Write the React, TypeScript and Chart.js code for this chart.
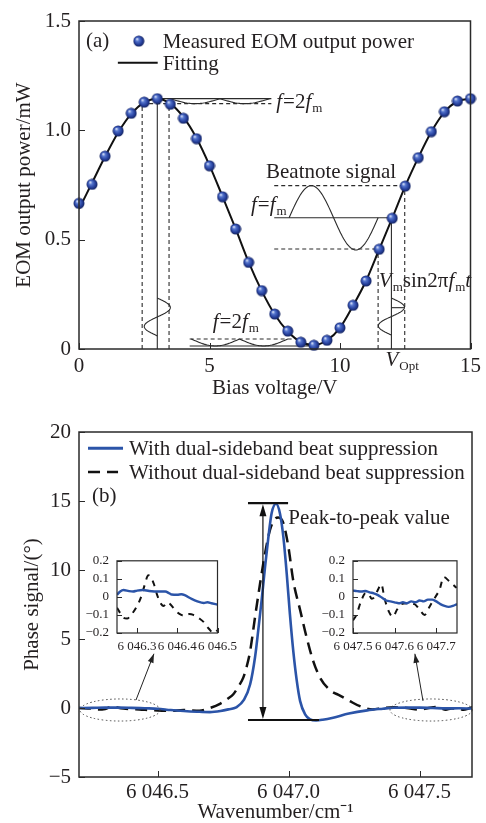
import React, { useEffect, useRef } from 'react';
import { Chart, registerables } from 'chart.js';

Chart.register(...registerables);

const FONT = '"Liberation Serif", "Times New Roman", Times, serif';
const INK = '#231f20';
const BLUE = '#2b54a8';

// ---------------- Panel (a) data ----------------
const biasVoltage = [0, 0.5, 1, 1.5, 2, 2.5, 3, 3.5, 4, 4.5, 5, 5.5, 6, 6.5, 7, 7.5, 8, 8.5, 9, 9.5, 10, 10.5, 11, 11.5, 12, 12.5, 13, 13.5, 14, 14.5, 15];
const measuredPower = [0.666, 0.753, 0.882, 0.997, 1.078, 1.129, 1.145, 1.119, 1.055, 0.962, 0.838, 0.696, 0.549, 0.396, 0.267, 0.16, 0.082, 0.031, 0.017, 0.04, 0.097, 0.2, 0.311, 0.456, 0.598, 0.745, 0.875, 0.994, 1.085, 1.134, 1.145];
const fittedPower = [0.64, 0.76, 0.88, 0.99, 1.075, 1.128, 1.145, 1.122, 1.06, 0.965, 0.84, 0.697, 0.55, 0.397, 0.266, 0.158, 0.08, 0.032, 0.018, 0.04, 0.097, 0.198, 0.312, 0.455, 0.598, 0.745, 0.875, 0.993, 1.083, 1.133, 1.145];
const biasTicks = [0, 5, 10, 15];
const powerTicks = [0, 0.5, 1.0, 1.5];

// ---------------- Panel (b) data ----------------
const wnWith = [6046.2, 6046.25, 6046.3, 6046.35, 6046.4, 6046.45, 6046.5, 6046.55, 6046.6, 6046.65, 6046.7, 6046.74, 6046.77, 6046.8, 6046.83, 6046.853, 6046.872, 6046.884, 6046.897, 6046.91, 6046.923, 6046.935, 6046.952, 6046.967, 6046.98, 6046.993, 6047.005, 6047.018, 6047.031, 6047.044, 6047.063, 6047.082, 6047.105, 6047.13, 6047.17, 6047.23, 6047.3, 6047.36, 6047.4, 6047.45, 6047.5, 6047.55, 6047.6, 6047.65, 6047.7];
const phaseWith = [0.0, 0.01, 0.03, 0.03, 0.01, -0.02, -0.05, -0.15, -0.22, -0.27, -0.3, -0.22, -0.1, 0.05, 0.6, 1.7, 3.7, 5.6, 7.8, 10.2, 12.4, 14.1, 14.8, 14.1, 12.4, 9.7, 6.8, 4.1, 2.0, 0.5, -0.46, -0.82, -0.9, -0.85, -0.7, -0.4, -0.17, -0.05, 0.02, 0.03, 0.03, 0.0, -0.03, -0.02, -0.04];
const wnWithout = [6046.2, 6046.25, 6046.27, 6046.3, 6046.33, 6046.35, 6046.37, 6046.4, 6046.43, 6046.47, 6046.5, 6046.55, 6046.6, 6046.66, 6046.7, 6046.738, 6046.77, 6046.789, 6046.81, 6046.827, 6046.84, 6046.853, 6046.872, 6046.891, 6046.91, 6046.929, 6046.948, 6046.96, 6046.98, 6046.999, 6047.018, 6047.044, 6047.069, 6047.094, 6047.12, 6047.158, 6047.196, 6047.234, 6047.27, 6047.32, 6047.36, 6047.4, 6047.45, 6047.5, 6047.53, 6047.565, 6047.6, 6047.62, 6047.65, 6047.667, 6047.69, 6047.713, 6047.73];
const phaseWithout = [0.0, -0.05, -0.11, -0.07, 0.12, 0.02, -0.04, -0.08, -0.1, -0.15, -0.18, -0.2, -0.15, -0.2, 0.0, 0.3, 0.7, 1.0, 1.6, 2.2, 3.0, 4.1, 6.6, 9.0, 11.2, 12.9, 13.7, 13.8, 13.4, 11.7, 9.2, 7.1, 5.1, 3.4, 2.2, 1.3, 0.9, 0.5, 0.15, -0.1, 0.0, 0.05, 0.0, -0.12, -0.02, 0.07, -0.12, -0.03, -0.05, -0.13, -0.02, 0.12, 0.1];
const wnTicks = [6046.5, 6047.0, 6047.5];
const phaseTicks = [-5, 0, 5, 10, 15, 20];

// ---------------- Insets data ----------------
const insetLeftWnWith = [6046.25, 6046.258, 6046.266, 6046.28, 6046.29, 6046.3, 6046.314, 6046.33, 6046.354, 6046.37, 6046.38, 6046.386, 6046.4, 6046.41, 6046.42, 6046.434, 6046.45, 6046.466, 6046.475, 6046.485, 6046.5];
const insetLeftWith = [0.012, 0.03, 0.038, 0.032, 0.03, 0.035, 0.038, 0.033, 0.03, 0.03, 0.02, 0.013, 0.012, 0.015, 0.008, -0.009, -0.025, -0.034, -0.03, -0.035, -0.043];
const insetLeftWnWithout = [6046.25, 6046.258, 6046.266, 6046.275, 6046.285, 6046.3, 6046.31, 6046.318, 6046.328, 6046.334, 6046.342, 6046.35, 6046.36, 6046.366, 6046.374, 6046.38, 6046.39, 6046.4, 6046.41, 6046.42, 6046.43, 6046.44, 6046.455, 6046.466, 6046.478, 6046.49, 6046.5];
const insetLeftWithout = [-0.06, -0.09, -0.115, -0.12, -0.1, -0.05, 0.0, 0.06, 0.12, 0.11, 0.07, 0.01, -0.04, -0.05, -0.03, -0.035, -0.06, -0.085, -0.1, -0.105, -0.095, -0.1, -0.12, -0.14, -0.175, -0.2, -0.185];
const insetLeftTicks = [6046.3, 6046.4, 6046.5];

const insetRightWnWith = [6047.5, 6047.51, 6047.52, 6047.53, 6047.54, 6047.55, 6047.56, 6047.57, 6047.58, 6047.59, 6047.6, 6047.61, 6047.62, 6047.63, 6047.64, 6047.65, 6047.66, 6047.67, 6047.68, 6047.69, 6047.7, 6047.71, 6047.72, 6047.73, 6047.74, 6047.75];
const insetRightWith = [0.035, 0.032, 0.03, 0.033, 0.025, 0.02, 0.01, -0.005, -0.02, -0.025, -0.03, -0.035, -0.03, -0.035, -0.025, -0.03, -0.02, -0.025, -0.015, -0.015, -0.025, -0.04, -0.05, -0.055, -0.05, -0.04];
const insetRightWnWithout = [6047.5, 6047.508, 6047.52, 6047.53, 6047.536, 6047.545, 6047.552, 6047.56, 6047.568, 6047.576, 6047.586, 6047.596, 6047.606, 6047.616, 6047.63, 6047.648, 6047.66, 6047.672, 6047.685, 6047.698, 6047.708, 6047.718, 6047.73, 6047.749];
const insetRightWithout = [-0.13, -0.1, -0.02, 0.02, 0.02, -0.01, 0.0, 0.04, 0.07, -0.01, -0.08, -0.11, -0.07, -0.04, -0.035, -0.04, -0.07, -0.1, -0.05, 0.0, 0.04, 0.11, 0.09, 0.05];
const insetRightTicks = [6047.5, 6047.6, 6047.7];
const insetYTicks = [-0.2, -0.1, 0, 0.1, 0.2];

// ---------------- helpers ----------------
const pts = (xs: number[], ys: number[]) => xs.map((x, i) => ({ x, y: ys[i] }));
const fmtWn = (v: number) => { const s = v.toFixed(1); return s.slice(0, 1) + ' ' + s.slice(1); };
const fmtSigned = (v: number, d: number) => (Math.abs(v) < 1e-9 ? '0' : (v < 0 ? '\u2212' : '') + Math.abs(v).toFixed(d));

function axis(o: any) {
  return {
    type: 'linear',
    min: o.min,
    max: o.max,
    afterBuildTicks: (s: any) => { s.ticks = o.ticks.map((v: number) => ({ value: v })); },
    ticks: { callback: (v: number) => o.fmt(v), font: { family: FONT, size: o.size }, color: INK, padding: o.pad, maxRotation: 0, minRotation: 0, autoSkip: false },
    grid: { display: false, drawTicks: false },
    border: { display: false },
    title: o.title
      ? { display: true, text: o.title, font: { family: FONT, size: 21, lineHeight: 1 }, color: INK, padding: o.titlePad }
      : { display: false },
    afterFit: (s: any) => { if (o.horizontal) s.height = o.fit; else s.width = o.fit; },
  };
}

const frameTicks = (len: number, lw: number) => ({
  id: 'frameTicks',
  afterDraw(chart: any) {
    const { ctx, chartArea: a, scales: { x, y } } = chart;
    ctx.save();
    ctx.strokeStyle = '#2a2a2a';
    ctx.lineWidth = lw;
    ctx.setLineDash([]);
    ctx.strokeRect(a.left, a.top, a.right - a.left, a.bottom - a.top);
    ctx.beginPath();
    x.ticks.forEach((t: any) => { const p = Math.round(x.getPixelForValue(t.value)) + 0.5; ctx.moveTo(p, a.bottom); ctx.lineTo(p, a.bottom - len); });
    y.ticks.forEach((t: any) => { const p = Math.round(y.getPixelForValue(t.value)) + 0.5; ctx.moveTo(a.left, p); ctx.lineTo(a.left + len, p); });
    ctx.lineWidth = 1;
    ctx.stroke();
    ctx.restore();
  },
});

type Run = { t: string; it?: boolean; sub?: boolean };
function drawRuns(ctx: CanvasRenderingContext2D, x: number, y: number, runs: Run[], size = 21, subSize = 13) {
  ctx.textBaseline = 'alphabetic';
  ctx.textAlign = 'left';
  ctx.fillStyle = INK;
  let cx = x;
  for (const r of runs) {
    const fs = r.sub ? subSize : size;
    ctx.font = `${r.it ? 'italic ' : ''}${fs}px ${FONT}`;
    ctx.fillText(r.t, cx, y + (r.sub ? 4 : 0));
    cx += ctx.measureText(r.t).width + (r.it ? 1 : 0);
  }
}

function makeBall(r: number) {
  const c = document.createElement('canvas');
  const s = Math.ceil(r * 2) + 1;
  c.width = s; c.height = s;
  const g = c.getContext('2d')!;
  const cx = s / 2;
  const grad = g.createRadialGradient(cx - r * 0.35, cx - r * 0.4, r * 0.05, cx, cx, r);
  grad.addColorStop(0, '#e4eafb');
  grad.addColorStop(0.28, '#5677cf');
  grad.addColorStop(0.7, '#26409d');
  grad.addColorStop(1, '#14235f');
  g.fillStyle = grad;
  g.beginPath();
  g.arc(cx, cx, r, 0, Math.PI * 2);
  g.fill();
  return c;
}

// ---------------- Panel (a) overlay ----------------
function panelAOverlay(ball: HTMLCanvasElement) {
  return {
    id: 'panelAOverlay',
    beforeDatasetsDraw(chart: any) {
      const { ctx, scales: { x, y } } = chart;
      const X = (v: number) => x.getPixelForValue(v);
      const Y = (v: number) => y.getPixelForValue(v);
      ctx.save();
      ctx.strokeStyle = '#2b2b2b';
      ctx.lineWidth = 1.1;
      const seg = (x1: number, y1: number, x2: number, y2: number, dash = false) => {
        ctx.setLineDash(dash ? [4, 3] : []);
        ctx.beginPath(); ctx.moveTo(X(x1), Y(y1)); ctx.lineTo(X(x2), Y(y2)); ctx.stroke();
      };
      const path = (fn: (t: number) => number[], n = 60) => {
        ctx.setLineDash([]);
        ctx.beginPath();
        for (let i = 0; i <= n; i++) {
          const [a, b] = fn(i / n);
          if (i === 0) ctx.moveTo(X(a), Y(b)); else ctx.lineTo(X(a), Y(b));
        }
        ctx.stroke();
      };
      // peak (2fm) guides
      seg(3, 0, 3, 1.145);
      seg(3, 1.145, 7.37, 1.145);
      seg(2.42, 0, 2.42, 1.122, true);
      seg(3.45, 0, 3.45, 1.122, true);
      seg(2.42, 1.122, 7.37, 1.122, true);
      [[3.5, 1.9], [5.4, 1.9]].forEach(([a, w]) => path((t) => [a + t * w, 1.145 - 0.023 * Math.sin(Math.PI * t)], 30));
      path((t) => [3 + 0.5 * Math.sin(2 * Math.PI * t), 0.233 - t * 0.173]);
      // valley (2fm) guides
      seg(4.24, 0.014, 9.0, 0.014);
      seg(4.24, 0.046, 8.2, 0.046, true);
      [[4.3, 1.85], [6.15, 1.85]].forEach(([a, w]) => path((t) => [a + t * w, 0.046 - 0.032 * Math.sin(Math.PI * t)], 30));
      // quadrature (fm) guides
      seg(7.48, 0.747, 12.48, 0.747, true);
      seg(12.48, 0, 12.48, 0.747, true);
      seg(7.48, 0.6, 11.97, 0.6);
      seg(11.97, 0, 11.97, 0.6);
      seg(7.48, 0.457, 11.46, 0.457, true);
      seg(11.46, 0, 11.46, 0.457, true);
      path((t) => [8.05 + t * 3.41, 0.6 + 0.147 * Math.sin(2 * Math.PI * t)], 80);
      path((t) => [11.97 + 0.5 * Math.sin(2 * Math.PI * t), 0.233 - t * 0.169]);
      seg(11.97, 0.189, 12.45, 0.189);
      ctx.restore();
    },
    afterDraw(chart: any) {
      const { ctx, chartArea: a, scales: { x, y } } = chart;
      const X = (v: number) => x.getPixelForValue(v);
      const Y = (v: number) => y.getPixelForValue(v);
      ctx.save();
      // legend
      drawRuns(ctx, X(0.267), Y(1.381), [{ t: '(a)' }]);
      ctx.drawImage(ball, X(2.29) - ball.width / 2, Y(1.408) - ball.height / 2);
      drawRuns(ctx, X(3.206), Y(1.3765), [{ t: 'Measured EOM output power' }]);
      ctx.strokeStyle = '#111'; ctx.lineWidth = 2; ctx.setLineDash([]);
      ctx.beginPath(); ctx.moveTo(X(1.489), Y(1.309)); ctx.lineTo(X(3.015), Y(1.309)); ctx.stroke();
      drawRuns(ctx, X(3.206), Y(1.276), [{ t: 'Fitting' }]);
      // annotations
      drawRuns(ctx, X(7.557), Y(1.101), [{ t: 'f', it: true }, { t: '=2' }, { t: 'f', it: true }, { t: 'm', sub: true }]);
      drawRuns(ctx, X(7.164), Y(0.783), [{ t: 'Beatnote signal' }]);
      drawRuns(ctx, X(6.59), Y(0.631), [{ t: 'f', it: true }, { t: '=' }, { t: 'f', it: true }, { t: 'm', sub: true }]);
      drawRuns(ctx, X(5.126), Y(0.0947), [{ t: 'f', it: true }, { t: '=2' }, { t: 'f', it: true }, { t: 'm', sub: true }]);
      drawRuns(ctx, X(11.489), Y(0.282), [{ t: 'V', it: true }, { t: 'm', sub: true }, { t: 'sin2\u03c0' }, { t: 'f', it: true }, { t: 'm', sub: true }, { t: 't', it: true }]);
      drawRuns(ctx, X(11.744), a.bottom + 17, [{ t: 'V', it: true }, { t: 'Opt', sub: true }]);
      ctx.restore();
    },
  };
}

// ---------------- Panel (b) overlay ----------------
const panelBOverlay = {
  id: 'panelBOverlay',
  afterDatasetsDraw(chart: any) {
    const { ctx, scales: { x, y } } = chart;
    const X = (v: number) => x.getPixelForValue(v);
    const Y = (v: number) => y.getPixelForValue(v);
    const head = (tx: number, ty: number, fx: number, fy: number, len: number, half: number) => {
      const ang = Math.atan2(ty - fy, tx - fx);
      ctx.beginPath();
      ctx.moveTo(tx, ty);
      ctx.lineTo(tx - len * Math.cos(ang) + half * Math.sin(ang), ty - len * Math.sin(ang) - half * Math.cos(ang));
      ctx.lineTo(tx - len * Math.cos(ang) - half * Math.sin(ang), ty - len * Math.sin(ang) + half * Math.cos(ang));
      ctx.closePath();
      ctx.fill();
    };
    ctx.save();
    ctx.fillStyle = '#111';
    ctx.strokeStyle = '#111';
    // peak-to-peak bars
    ctx.lineWidth = 2.2;
    ctx.beginPath();
    ctx.moveTo(X(6046.845), Y(14.84)); ctx.lineTo(X(6046.998), Y(14.84));
    ctx.moveTo(X(6046.845), Y(-0.87)); ctx.lineTo(X(6047.116), Y(-0.87));
    ctx.stroke();
    const ax = X(6046.902), ay1 = Y(14.84), ay2 = Y(-0.87);
    ctx.lineWidth = 1.2;
    ctx.beginPath(); ctx.moveTo(ax, ay1 + 4); ctx.lineTo(ax, ay2 - 4); ctx.stroke();
    head(ax, ay1 + 1, ax, ay2, 12, 3.5);
    head(ax, ay2 - 1, ax, ay1, 12, 3.5);
    // dotted ellipses
    ctx.strokeStyle = '#444';
    ctx.lineWidth = 1;
    ctx.setLineDash([1.5, 2.5]);
    [[6046.3565, 0.1527], [6047.5435, 0.1565]].forEach(([cx, rx]) => {
      ctx.beginPath();
      ctx.ellipse(X(cx), Y(-0.145), X(cx + rx) - X(cx), Y(-0.145) - Y(0.655), 0, 0, Math.PI * 2);
      ctx.stroke();
    });
    ctx.setLineDash([]);
    // arrows to insets
    ctx.strokeStyle = '#222';
    ctx.fillStyle = '#222';
    [[6046.4176, 0.58, 6046.486, 3.93], [6047.513, 0.51, 6047.482, 3.93]].forEach(([x1, y1, x2, y2]) => {
      ctx.beginPath(); ctx.moveTo(X(x1), Y(y1)); ctx.lineTo(X(x2), Y(y2)); ctx.stroke();
      head(X(x2), Y(y2), X(x1), Y(y1), 9, 3);
    });
    ctx.restore();
  },
  afterDraw(chart: any) {
    const { ctx, scales: { x, y } } = chart;
    const X = (v: number) => x.getPixelForValue(v);
    const Y = (v: number) => y.getPixelForValue(v);
    ctx.save();
    ctx.lineWidth = 3;
    ctx.strokeStyle = BLUE;
    ctx.beginPath(); ctx.moveTo(X(6046.2344), Y(18.815)); ctx.lineTo(X(6046.368), Y(18.815)); ctx.stroke();
    ctx.strokeStyle = '#111';
    ctx.lineWidth = 2.5;
    ctx.setLineDash([12, 7]);
    ctx.beginPath(); ctx.moveTo(X(6046.2344), Y(17.11)); ctx.lineTo(X(6046.349), Y(17.11)); ctx.stroke();
    ctx.setLineDash([]);
    drawRuns(ctx, X(6046.391), Y(18.327), [{ t: 'With dual-sideband beat suppression' }]);
    drawRuns(ctx, X(6046.391), Y(16.63), [{ t: 'Without dual-sideband beat suppression' }]);
    drawRuns(ctx, X(6046.2496), Y(14.93), [{ t: '(b)' }]);
    drawRuns(ctx, X(6046.999), Y(13.36), [{ t: 'Peak-to-peak value' }]);
    ctx.restore();
  },
};

// ---------------- configs ----------------
function configA() {
  const ball = makeBall(5.5);
  return {
    type: 'line',
    data: {
      datasets: [
        { data: pts(biasVoltage, measuredPower), showLine: false, pointStyle: ball, pointRadius: 6, order: 0, clip: false },
        { data: pts(biasVoltage, fittedPower), borderColor: '#111', borderWidth: 2, pointRadius: 0, cubicInterpolationMode: 'monotone', order: 1 },
      ],
    },
    options: {
      animation: false, responsive: false, devicePixelRatio: 1, events: [],
      layout: { padding: { top: 21, right: 14, left: 0, bottom: 0 } },
      plugins: { legend: { display: false }, tooltip: { enabled: false } },
      scales: {
        x: axis({ min: 0, max: 15, ticks: biasTicks, fmt: (v: number) => String(v), size: 21, pad: 5, title: 'Bias voltage/V', titlePad: { top: 0, bottom: 1.5 }, horizontal: true, fit: 51 }),
        y: axis({ min: 0, max: 1.5, ticks: powerTicks, fmt: (v: number) => (v === 0 ? '0' : v.toFixed(1)), size: 21, pad: 8, title: 'EOM output power/mW', titlePad: { top: 13.5, bottom: 0 }, fit: 79 }),
      },
    },
    plugins: [panelAOverlay(ball), frameTicks(6, 1.5)],
  };
}

function configB() {
  return {
    type: 'line',
    data: {
      datasets: [
        { data: pts(wnWith, phaseWith), borderColor: BLUE, borderWidth: 2.6, pointRadius: 0, cubicInterpolationMode: 'monotone', order: 0 },
        { data: pts(wnWithout, phaseWithout), borderColor: '#111', borderWidth: 2.5, borderDash: [12, 7], pointRadius: 0, cubicInterpolationMode: 'monotone', order: 1 },
      ],
    },
    options: {
      animation: false, responsive: false, devicePixelRatio: 1, events: [],
      layout: { padding: { top: 32, right: 14, left: 0, bottom: 0 } },
      plugins: { legend: { display: false }, tooltip: { enabled: false } },
      scales: {
        x: axis({ min: 6046.2, max: 6047.7, ticks: wnTicks, fmt: fmtWn, size: 21, pad: 3, title: 'Wavenumber/cm\u207b\u00b9', titlePad: { top: 0, bottom: 0.5 }, horizontal: true, fit: 46 }),
        y: axis({ min: -5, max: 20, ticks: phaseTicks, fmt: (v: number) => fmtSigned(v, 0), size: 21, pad: 8, title: 'Phase signal/(\u00b0)', titlePad: { top: 22, bottom: 0 }, fit: 79 }),
      },
    },
    plugins: [panelBOverlay, frameTicks(6, 1.5)],
  };
}

function configInset(xsW: number[], ysW: number[], xsO: number[], ysO: number[], min: number, max: number, ticks: number[]) {
  return () => ({
    type: 'line',
    data: {
      datasets: [
        { data: pts(xsW, ysW), borderColor: BLUE, borderWidth: 2.4, pointRadius: 0, cubicInterpolationMode: 'monotone', order: 0 },
        { data: pts(xsO, ysO), borderColor: '#111', borderWidth: 2, borderDash: [6, 6], pointRadius: 0, cubicInterpolationMode: 'monotone', order: 1 },
      ],
    },
    options: {
      animation: false, responsive: false, devicePixelRatio: 1, events: [],
      layout: { padding: { top: 10, right: 22, left: 0, bottom: 0 } },
      plugins: { legend: { display: false }, tooltip: { enabled: false } },
      scales: {
        x: axis({ min, max, ticks, fmt: fmtWn, size: 13, pad: 6, horizontal: true, fit: 22 }),
        y: axis({ min: -0.2, max: 0.2, ticks: insetYTicks, fmt: (v: number) => fmtSigned(v, 1), size: 13, pad: 8, fit: 38 }),
      },
    },
    plugins: [frameTicks(5, 1.2)],
  });
}

function ChartCanvas({ make, left, top, width, height }: any) {
  const ref = useRef<HTMLCanvasElement>(null);
  useEffect(() => {
    const chart = new Chart(ref.current as HTMLCanvasElement, make() as any);
    return () => chart.destroy();
  }, []);
  return (
    <canvas
      ref={ref}
      width={width}
      height={height}
      style={{ position: 'absolute', left, top, width, height, display: 'block' }}
    />
  );
}

export default function App() {
  return (
    <div style={{ position: 'fixed', left: 0, top: 0, width: 486, height: 823, background: '#fff', overflow: 'hidden' }}>
      <ChartCanvas make={configA} left={0} top={0} width={486} height={400} />
      <ChartCanvas make={configB} left={0} top={400} width={486} height={423} />
      <ChartCanvas make={configInset(insetLeftWnWith, insetLeftWith, insetLeftWnWithout, insetLeftWithout, 6046.25, 6046.5, insetLeftTicks)} left={79} top={545} width={164} height={110} />
      <ChartCanvas make={configInset(insetRightWnWith, insetRightWith, insetRightWnWithout, insetRightWithout, 6047.5, 6047.75, insetRightTicks)} left={315} top={545} width={164} height={110} />
    </div>
  );
}
